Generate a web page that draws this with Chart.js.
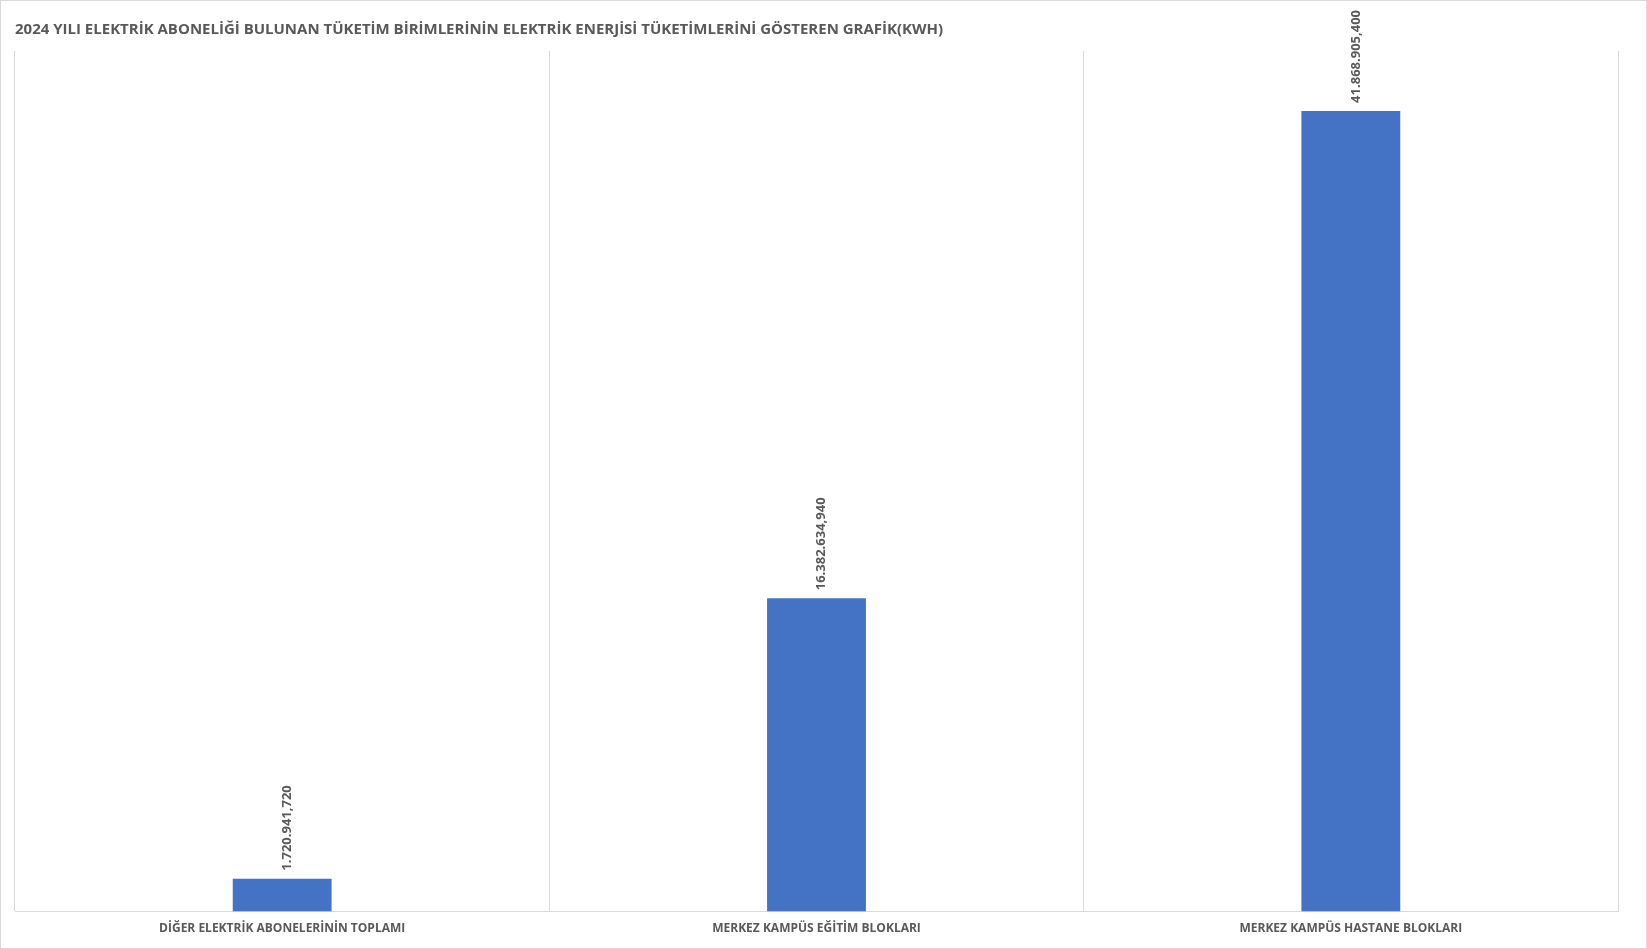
<!DOCTYPE html>
<html><head><meta charset="utf-8">
<script src="https://cdn.jsdelivr.net/npm/chart.js@4"></script>
<style>html,body{margin:0;padding:0;background:#fff}#w{position:absolute;left:0;top:0;width:1645px;height:947px;border:1px solid #d9d9d9}</style>
</head><body><div id="w"><canvas id="c"></canvas></div>
<script>
const categories=["DİĞER ELEKTRİK ABONELERİNİN TOPLAMI","MERKEZ KAMPÜS EĞİTİM BLOKLARI","MERKEZ KAMPÜS HASTANE BLOKLARI"];
const values=[1720941.720,16382634.940,41868905.400];
const labels=["1.720.941,720","16.382.634,940","41.868.905,400"];
const title="2024 YILI ELEKTRİK ABONELİĞİ BULUNAN TÜKETİM BİRİMLERİNİN ELEKTRİK ENERJİSİ TÜKETİMLERİNİ GÖSTEREN GRAFİK(KWH)";
const lbl={id:'lbl',afterDatasetsDraw(ch){const c=ch.ctx;ch.getDatasetMeta(0).data.forEach((b,i)=>{c.save();c.translate(b.x+5,b.y-8);c.rotate(-Math.PI/2);c.font='bold 13px "Open Sans"';c.fillStyle='#595959';c.textAlign='left';c.textBaseline='middle';c.fillText(labels[i],0,0);c.restore();});}};
new Chart(document.getElementById('c'),{type:'bar',plugins:[lbl],
data:{labels:categories,datasets:[{data:values,backgroundColor:'#4472c4',barPercentage:0.185,categoryPercentage:1}]},
options:{responsive:true,maintainAspectRatio:false,animation:false,
layout:{padding:{left:14,right:28,top:10,bottom:2}},
plugins:{legend:{display:false},tooltip:{enabled:false},
title:{display:true,text:title,align:'start',color:'#595959',font:{family:'"Open Sans"',size:15,weight:'bold'},padding:{top:10,bottom:12},fullSize:false}},
scales:{y:{display:false,min:0,max:45000000},
x:{grid:{color:'#d9d9d9',offset:true,drawTicks:false},border:{color:'#d9d9d9'},
ticks:{color:'#595959',font:{family:'"Open Sans"',size:12,weight:'bold'},padding:10}}}}});
</script></body></html>
